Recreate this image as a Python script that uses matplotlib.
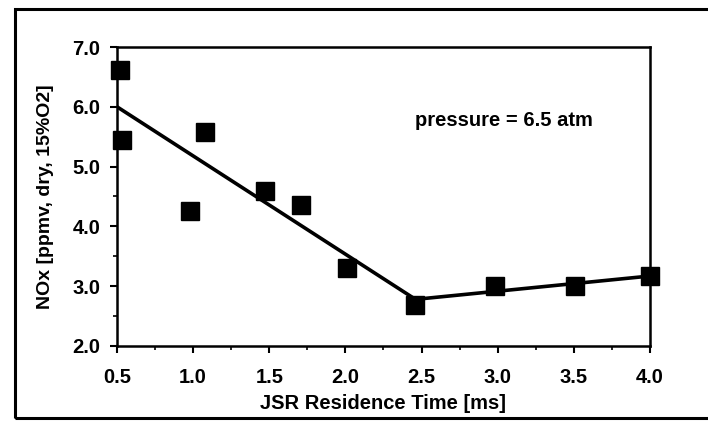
"""NOx vs JSR residence time at 6.5 atm, with piecewise trend line."""

import matplotlib
matplotlib.use("Agg")
import matplotlib.pyplot as plt
from matplotlib.patches import Rectangle
from matplotlib.ticker import MultipleLocator, FormatStrFormatter

# measured points
res_time = [0.52, 0.53, 0.98, 1.08, 1.47, 1.71, 2.01, 2.46, 2.98, 3.51, 4.0]
nox = [6.62, 5.44, 4.25, 5.58, 4.60, 4.35, 3.30, 2.68, 3.00, 3.00, 3.17]

# piecewise trend line
trend_x = [0.5, 2.46, 4.0]
trend_y = [6.0, 2.78, 3.17]

plt.rcParams["font.family"] = ["Liberation Sans", "DejaVu Sans"]

fig = plt.figure(figsize=(7.08, 4.25), dpi=100)
ax = fig.add_axes([0.1653, 0.1859, 0.918 - 0.1653, 0.8894 - 0.1859])

ax.plot(trend_x, trend_y, color="black", lw=2.6, solid_capstyle="butt")
ax.plot(res_time, nox, ls="none", marker="s", ms=13.5, color="black",
        clip_on=False)

ax.set_xlim(0.5, 4.0)
ax.set_ylim(2.0, 7.0)
ax.xaxis.set_major_locator(MultipleLocator(0.5))
ax.xaxis.set_minor_locator(MultipleLocator(0.25))
ax.yaxis.set_major_locator(MultipleLocator(1.0))
ax.yaxis.set_minor_locator(MultipleLocator(0.5))
ax.xaxis.set_major_formatter(FormatStrFormatter("%.1f"))
ax.yaxis.set_major_formatter(FormatStrFormatter("%.1f"))
ax.tick_params(which="major", direction="out", length=5, width=1.5,
               labelsize=14.5)
ax.tick_params(axis="x", which="major", pad=11)
ax.tick_params(axis="y", which="major", pad=7)
ax.tick_params(which="minor", direction="out", length=3, width=1.2)
for lab in ax.get_xticklabels() + ax.get_yticklabels():
    lab.set_fontweight("bold")
for sp in ax.spines.values():
    sp.set_linewidth(1.8)

ax.set_xlabel("JSR Residence Time [ms]", fontsize=14.5, fontweight="bold",
              labelpad=5)
ax.set_ylabel("NOx [ppmv, dry, 15%O2]", fontsize=14, fontweight="bold",
              labelpad=13)

ax.text(0.56, 0.755, "pressure = 6.5 atm", transform=ax.transAxes,
        fontsize=14.5, fontweight="bold", ha="left", va="center")

# outer frame around the whole figure
fig.patches.append(Rectangle((0.021, 0.017), 1.0, 0.963, transform=fig.transFigure,
                             fill=False, lw=2.2, color="black", clip_on=False))

fig.savefig("out.png", dpi=100)
